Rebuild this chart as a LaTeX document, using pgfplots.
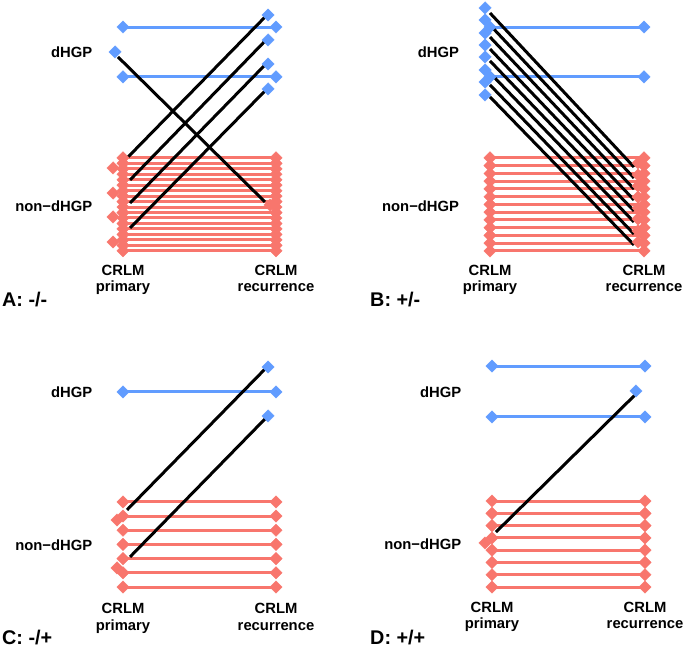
\documentclass[border=0pt]{standalone}
\usepackage{fontspec}
\setmainfont{Liberation Sans}
\usepackage{pgfplots}
\usepackage{pgfplotstable}
\pgfplotsset{compat=1.18}

\definecolor{nonred}{HTML}{F8766D}
\definecolor{dblue}{HTML}{619CFF}

% one row per patient that keeps its class: y is its jittered level
\pgfplotstableread{
y
1.312
1.277
1.241
1.206
1.170
1.135
1.099
1.064
1.028
0.993
0.957
0.922
0.886
0.851
0.815
0.780
0.744
0.709
}\redA
\pgfplotstableread{
y
2.162
1.838
}\blueA
\pgfplotstableread{
y
1.312
1.262
1.211
1.161
1.111
1.060
1.010
0.960
0.910
0.859
0.809
0.759
0.708
}\redB
\pgfplotstableread{
y
2.162
1.838
}\blueB
\pgfplotstableread{
y
1.281
1.189
1.096
1.004
0.911
0.818
0.725
}\redC
\pgfplotstableread{
y
2.000
}\blueC
\pgfplotstableread{
y
1.283
1.202
1.121
1.040
0.960
0.879
0.798
0.717
}\redD
\pgfplotstableread{
y
2.171
1.836
}\blueD

\pgfplotsset{
  hgp/.style={anchor=south west, clip=false,
    xmin=0.8, xmax=2.2, ymin=0.62, ymax=2.4,
    axis line style={draw=none}, major tick length=0pt,
    xtick={1,2}, ytick={1,2},
    xticklabels={{CRLM\\primary},{CRLM\\recurrence}},
    yticklabels={non−dHGP,dHGP},
    ticklabel style={font=\fontsize{14.8}{16.5}\selectfont\bfseries, inner sep=0pt},
    xticklabel style={align=center, anchor=north},
    yticklabel style={anchor=east}},
  flat/.style={no markers, line width=3pt, quiver={u=1, v=0}},
  swap/.style={black, no markers, line width=3pt,
    quiver={u=\thisrow{x1}-\thisrow{x0}, v=\thisrow{y1}-\thisrow{y0}}},
  dot/.style={only marks, mark=square*, mark size=4.4pt,
    mark options={rotate=45, line width=0.3pt}},
}

\begin{document}
\begin{tikzpicture}
\useasboundingbox (0,0) rectangle (685pt,650pt);

% ---- A: -/- ----
\begin{axis}[hgp, x=153pt, y=154pt, at={(92.4pt,385.5pt)}]
\addplot[flat, nonred] table[x expr=1, y=y] {\redA};
\addplot[flat, dblue] table[x expr=1, y=y] {\blueA};
\addplot[swap] table[x=x0, y=y0] {
x0 y0 x1 y1
1.033 1.318 1.941 2.240
1.046 1.169 1.941 2.084
1.046 1.019 1.941 1.929
1.046 0.857 1.941 1.760
0.967 1.968 1.928 1.026
};
\addplot[dot, nonred] table[x expr=1, y=y] {\redA};
\addplot[dot, nonred] table[x expr=2, y=y] {\redA};
\addplot[dot, nonred] table {
x y
0.935 1.247
0.935 1.084
0.935 0.929
0.935 0.766
1.961 1.006
};
\addplot[dot, dblue] table[x expr=1, y=y] {\blueA};
\addplot[dot, dblue] table[x expr=2, y=y] {\blueA};
\addplot[dot, dblue] table {
x y
0.948 2.000
1.948 2.240
1.948 2.078
1.948 1.922
1.948 1.760
};
\end{axis}

% ---- B: +/- ----
\begin{axis}[hgp, x=154pt, y=154pt, at={(459.2pt,385.5pt)}]
\addplot[flat, nonred] table[x expr=1, y=y] {\redB};
\addplot[flat, dblue] table[x expr=1, y=y] {\blueB};
\addplot[swap] table[x=x0, y=y0] {
x0 y0 x1 y1
1.000 2.253 1.935 1.253
1.000 2.175 1.935 1.182
1.000 2.097 1.935 1.110
1.000 2.019 1.935 1.039
1.000 1.942 1.935 0.968
1.000 1.864 1.935 0.896
1.000 1.786 1.935 0.818
1.000 1.708 1.935 0.747
};
\addplot[dot, nonred] table[x expr=1, y=y] {\redB};
\addplot[dot, nonred] table[x expr=2, y=y] {\redB};
\addplot[dot, nonred] table {
x y
1.961 1.279
1.961 1.201
1.961 1.130
1.961 1.058
1.961 0.987
1.961 0.916
1.961 0.838
1.961 0.766
};
\addplot[dot, dblue] table[x expr=1, y=y] {\blueB};
\addplot[dot, dblue] table[x expr=2, y=y] {\blueB};
\addplot[dot, dblue] table {
x y
0.968 2.286
0.968 2.208
0.968 2.123
0.968 2.045
0.968 1.968
0.968 1.883
0.968 1.805
0.968 1.721
};
\end{axis}

% ---- C: -/+ ----
\begin{axis}[hgp, x=153pt, y=153pt, at={(92.4pt,46.9pt)}]
\addplot[flat, nonred] table[x expr=1, y=y] {\redC};
\addplot[flat, dblue] table[x expr=1, y=y] {\blueC};
\addplot[swap] table[x=x0, y=y0] {
x0 y0 x1 y1
1.026 1.229 1.941 2.163
1.046 0.922 1.941 1.837
};
\addplot[dot, nonred] table[x expr=1, y=y] {\redC};
\addplot[dot, nonred] table[x expr=2, y=y] {\redC};
\addplot[dot, nonred] table {
x y
0.961 1.163
0.961 0.850
};
\addplot[dot, dblue] table[x expr=1, y=y] {\blueC};
\addplot[dot, dblue] table[x expr=2, y=y] {\blueC};
\addplot[dot, dblue] table {
x y
1.948 2.163
1.948 1.843
};
\end{axis}

% ---- D: +/+ ----
\begin{axis}[hgp, x=153pt, y=152pt, at={(461.4pt,48.2pt)}]
\addplot[flat, nonred] table[x expr=1, y=y] {\redD};
\addplot[flat, dblue] table[x expr=1, y=y] {\blueD};
\addplot[swap] table[x=x0, y=y0] {
x0 y0 x1 y1
1.026 1.079 1.941 1.987
};
\addplot[dot, nonred] table[x expr=1, y=y] {\redD};
\addplot[dot, nonred] table[x expr=2, y=y] {\redD};
\addplot[dot, nonred] table {
x y
0.954 1.007
};
\addplot[dot, dblue] table[x expr=1, y=y] {\blueD};
\addplot[dot, dblue] table[x expr=2, y=y] {\blueD};
\addplot[dot, dblue] table {
x y
1.941 2.007
};
\end{axis}

\begin{scope}[every node/.style={anchor=base west, inner sep=0pt,
    font=\fontsize{19.8}{22}\selectfont\bfseries}]
\node at (2pt,343pt) {A: -/-};
\node at (370pt,343pt) {B: +/-};
\node at (2pt,5pt) {C: -/+};
\node at (370pt,5pt) {D: +/+};
\end{scope}
\end{tikzpicture}
\end{document}
